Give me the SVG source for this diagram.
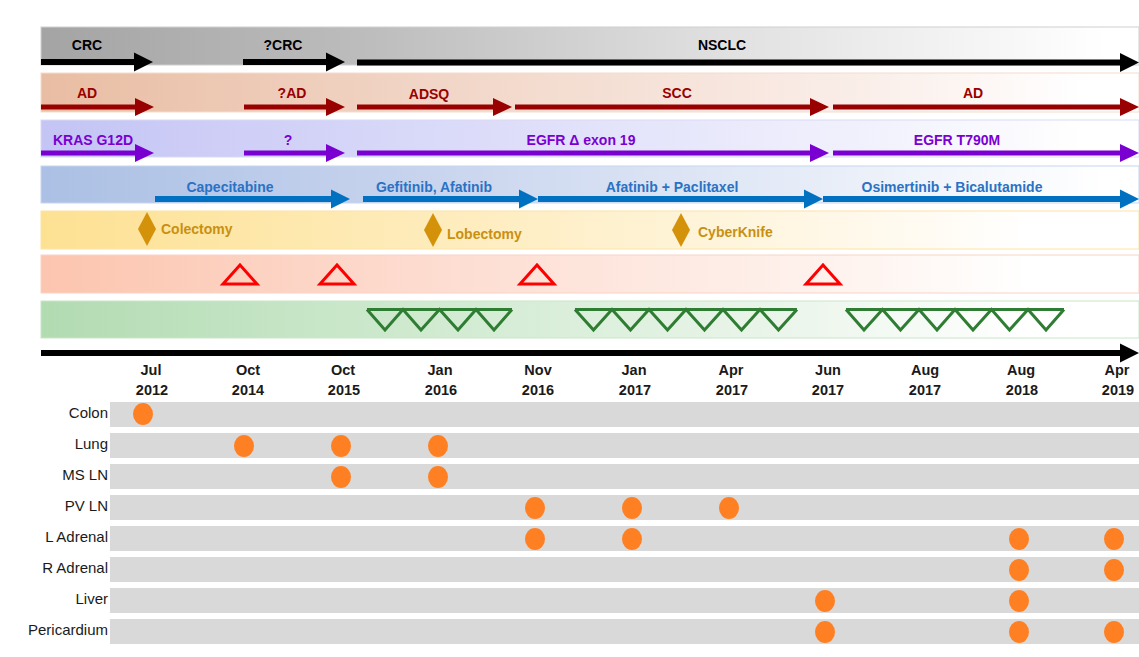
<svg xmlns="http://www.w3.org/2000/svg" width="1139" height="657" viewBox="0 0 1139 657">
<defs>
<linearGradient id="g1" x1="0" x2="1" y1="0" y2="0"><stop offset="0" stop-color="#A4A4A4"/><stop offset="0.3" stop-color="#BDBDBD"/><stop offset="0.62" stop-color="#E0E0E0"/><stop offset="0.97" stop-color="#FFFFFF"/></linearGradient>
<linearGradient id="g2" x1="0" x2="1" y1="0" y2="0"><stop offset="0" stop-color="#E9BDA3"/><stop offset="0.35" stop-color="#F1D5C6"/><stop offset="0.75" stop-color="#FAEEE9"/><stop offset="0.95" stop-color="#FFFFFF"/></linearGradient>
<linearGradient id="g3" x1="0" x2="1" y1="0" y2="0"><stop offset="0" stop-color="#C4C4F5"/><stop offset="0.35" stop-color="#D9D9F9"/><stop offset="0.75" stop-color="#F1F1FD"/><stop offset="0.95" stop-color="#FFFFFF"/></linearGradient>
<linearGradient id="g4" x1="0" x2="1" y1="0" y2="0"><stop offset="0" stop-color="#ABC0E4"/><stop offset="0.35" stop-color="#C8D4EE"/><stop offset="0.75" stop-color="#EBF0F9"/><stop offset="0.97" stop-color="#FFFFFF"/></linearGradient>
<linearGradient id="g5" x1="0" x2="1" y1="0" y2="0"><stop offset="0" stop-color="#FDE193"/><stop offset="0.4" stop-color="#FEEDC0"/><stop offset="0.72" stop-color="#FFF8E8"/><stop offset="0.9" stop-color="#FFFFFF"/></linearGradient>
<linearGradient id="g6" x1="0" x2="1" y1="0" y2="0"><stop offset="0" stop-color="#FCC5AF"/><stop offset="0.35" stop-color="#FDDCD0"/><stop offset="0.7" stop-color="#FEF1EC"/><stop offset="0.9" stop-color="#FFFFFF"/></linearGradient>
<linearGradient id="g7" x1="0" x2="1" y1="0" y2="0"><stop offset="0" stop-color="#B2DBB2"/><stop offset="0.35" stop-color="#D0EAD0"/><stop offset="0.7" stop-color="#EDF6ED"/><stop offset="0.9" stop-color="#FFFFFF"/></linearGradient>
</defs>
<style>
.lbl{font-family:"Liberation Sans",Arial,sans-serif;font-weight:bold;font-size:14px;text-anchor:middle}
.date{font-family:"Liberation Sans",Arial,sans-serif;font-weight:bold;font-size:14.5px;text-anchor:middle;fill:#1a1a1a}
.row{font-family:"Liberation Sans",Arial,sans-serif;font-size:15px;text-anchor:end;fill:#1a1a1a}
.k{fill:#000}
.r{fill:#990000}
.p{fill:#7A00D2}
.b{fill:#0070C0}
.tri{fill:none;stroke:#FF0000;stroke-width:3;stroke-linejoin:miter}
.gtri{fill:none;stroke:#2E7D32;stroke-width:3;stroke-linejoin:miter}
.dia{fill:#D4920A}
.evt{font-family:"Liberation Sans",Arial,sans-serif;font-weight:bold;font-size:14px;fill:#C99010}
.band{stroke-width:1}
.track{fill:#D9D9D9}
.dot{fill:#FF8023}
</style>
<rect width="1139" height="657" fill="#FFFFFF"/>
<g id="bands">
<rect class="band" x="41" y="27" width="1098" height="38" fill="url(#g1)" stroke="#CFCFCF"/>
<rect class="band" x="41" y="73" width="1098" height="39" fill="url(#g2)" stroke="#F6DCCB"/>
<rect class="band" x="41" y="120" width="1098" height="37" fill="url(#g3)" stroke="#D9D9F6"/>
<rect class="band" x="41" y="166" width="1098" height="37" fill="url(#g4)" stroke="#C6D6EF"/>
<rect class="band" x="41" y="211" width="1098" height="38" fill="url(#g5)" stroke="#FCE4A4"/>
<rect class="band" x="41" y="255" width="1098" height="38" fill="url(#g6)" stroke="#FAD3C4"/>
<rect class="band" x="41" y="301" width="1098" height="37" fill="url(#g7)" stroke="#C9E6C9"/>
</g>
<g id="connectors">
<path class="k" d="M41 59 H134 V52.5 L153 62 L134 71.5 V65 H41 Z"/>
<path class="k" d="M243 59 H326 V52.5 L345 62 L326 71.5 V65 H243 Z"/>
<path class="k" d="M357 59.5 H1120 V53 L1139 62.5 L1120 72 V65.5 H357 Z"/>
<path class="r" d="M41 104.5 H135 V98 L154 107 L135 116 V109.5 H41 Z"/>
<path class="r" d="M244 104.5 H326 V98 L345 107 L326 116 V109.5 H244 Z"/>
<path class="r" d="M357 104.5 H493 V98 L512 107 L493 116 V109.5 H357 Z"/>
<path class="r" d="M515 104.5 H810 V98 L829 107 L810 116 V109.5 H515 Z"/>
<path class="r" d="M833 104.5 H1120 V98 L1139 107 L1120 116 V109.5 H833 Z"/>
<path class="p" d="M41 150.5 H135 V144 L154 153 L135 162 V155.5 H41 Z"/>
<path class="p" d="M244 150.5 H326 V144 L345 153 L326 162 V155.5 H244 Z"/>
<path class="p" d="M357 150.5 H810 V144 L829 153 L810 162 V155.5 H357 Z"/>
<path class="p" d="M833 150.5 H1120 V144 L1139 153 L1120 162 V155.5 H833 Z"/>
<path class="b" d="M155 196 H331 V189.5 L350 199 L331 208.5 V202 H155 Z"/>
<path class="b" d="M363 196 H519 V189.5 L538 199 L519 208.5 V202 H363 Z"/>
<path class="b" d="M538 196 H804 V189.5 L823 199 L804 208.5 V202 H538 Z"/>
<path class="b" d="M823 196 H1120 V189.5 L1139 199 L1120 208.5 V202 H823 Z"/>
<path class="k" d="M41 350 H1120 V343.5 L1139 353 L1120 362.5 V356 H41 Z"/>
</g>
<g id="band-labels">
<text class="lbl k" x="87" y="50">CRC</text>
<text class="lbl k" x="283" y="50">?CRC</text>
<text class="lbl k" x="722" y="50">NSCLC</text>
<text class="lbl r" x="87" y="98">AD</text>
<text class="lbl r" x="292" y="98">?AD</text>
<text class="lbl r" x="429" y="99">ADSQ</text>
<text class="lbl r" x="677" y="98">SCC</text>
<text class="lbl r" x="973" y="98">AD</text>
<text class="lbl p" x="93" y="145">KRAS G12D</text>
<text class="lbl p" x="288" y="145">?</text>
<text class="lbl p" x="581" y="145">EGFR Δ exon 19</text>
<text class="lbl p" x="957" y="145">EGFR T790M</text>
<text class="lbl" x="230" y="192" fill="#2A72C4">Capecitabine</text>
<text class="lbl" x="434" y="192" fill="#2A72C4">Gefitinib, Afatinib</text>
<text class="lbl" x="672" y="192" fill="#2A72C4">Afatinib + Paclitaxel</text>
<text class="lbl" x="952" y="192" fill="#2A72C4">Osimertinib + Bicalutamide</text>
</g>
<g id="surgery">
<polygon class="dia" points="147,212 156,229 147,246 138,229"/>
<text class="evt" x="161" y="234">Colectomy</text>
<polygon class="dia" points="433,213 442,230 433,247 424,230"/>
<text class="evt" x="447" y="239">Lobectomy</text>
<polygon class="dia" points="681,213 690,230 681,247 672,230"/>
<text class="evt" x="698" y="237">CyberKnife</text>
</g>
<g id="biopsy">
<polygon class="tri" points="240,265 257,284 223,284"/>
<polygon class="tri" points="337,265 354,284 320,284"/>
<polygon class="tri" points="537,265 554,284 520,284"/>
<polygon class="tri" points="823,265 840,284 806,284"/>
</g>
<g id="scans">
<path class="gtri" d="M367 309.5 H512 M367 309.5 L385 330 L403 309.5 L421 330 L439.5 309.5 L458 330 L476 309.5 L494 330 L512 309.5"/>
<path class="gtri" d="M575 309.5 H797 M575 309.5 L593.5 330 L612 309.5 L630.5 330 L649 309.5 L667.5 330 L686 309.5 L704.5 330 L723 309.5 L741.5 330 L760 309.5 L778.5 330 L797 309.5"/>
<path class="gtri" d="M846 309.5 H1064 M846 309.5 L864 330 L882.5 309.5 L900.5 330 L919 309.5 L937 330 L955 309.5 L973 330 L991.5 309.5 L1009.5 330 L1028 309.5 L1046 330 L1064 309.5"/>
</g>
<g id="dates">
<text class="date" x="151" y="375">Jul</text><text class="date" x="152" y="395">2012</text>
<text class="date" x="248" y="375">Oct</text><text class="date" x="248" y="395">2014</text>
<text class="date" x="343" y="375">Oct</text><text class="date" x="344" y="395">2015</text>
<text class="date" x="440" y="375">Jan</text><text class="date" x="441" y="395">2016</text>
<text class="date" x="538" y="375">Nov</text><text class="date" x="538" y="395">2016</text>
<text class="date" x="634" y="375">Jan</text><text class="date" x="635" y="395">2017</text>
<text class="date" x="731" y="375">Apr</text><text class="date" x="732" y="395">2017</text>
<text class="date" x="828" y="375">Jun</text><text class="date" x="828" y="395">2017</text>
<text class="date" x="925" y="375">Aug</text><text class="date" x="925" y="395">2017</text>
<text class="date" x="1021" y="375">Aug</text><text class="date" x="1022" y="395">2018</text>
<text class="date" x="1117" y="375">Apr</text><text class="date" x="1118" y="395">2019</text>
</g>
<g id="row-colon"><rect class="track" x="110" y="402" width="1029" height="25"/><text class="row" x="108" y="418">Colon</text>
<ellipse class="dot" cx="143" cy="414" rx="10" ry="11"/></g>
<g id="row-lung"><rect class="track" x="110" y="433" width="1029" height="25"/><text class="row" x="108" y="449">Lung</text>
<ellipse class="dot" cx="244" cy="446" rx="10" ry="11"/><ellipse class="dot" cx="341" cy="446" rx="10" ry="11"/><ellipse class="dot" cx="438" cy="446" rx="10" ry="11"/></g>
<g id="row-msln"><rect class="track" x="110" y="464" width="1029" height="25"/><text class="row" x="108" y="480">MS LN</text>
<ellipse class="dot" cx="341" cy="477" rx="10" ry="11"/><ellipse class="dot" cx="438" cy="477" rx="10" ry="11"/></g>
<g id="row-pvln"><rect class="track" x="110" y="495" width="1029" height="25"/><text class="row" x="108" y="511">PV LN</text>
<ellipse class="dot" cx="535" cy="508" rx="10" ry="11"/><ellipse class="dot" cx="632" cy="508" rx="10" ry="11"/><ellipse class="dot" cx="729" cy="508" rx="10" ry="11"/></g>
<g id="row-ladrenal"><rect class="track" x="110" y="526" width="1029" height="25"/><text class="row" x="108" y="542">L Adrenal</text>
<ellipse class="dot" cx="535" cy="539" rx="10" ry="11"/><ellipse class="dot" cx="632" cy="539" rx="10" ry="11"/><ellipse class="dot" cx="1019" cy="539" rx="10" ry="11"/><ellipse class="dot" cx="1114" cy="539" rx="10" ry="11"/></g>
<g id="row-radrenal"><rect class="track" x="110" y="557" width="1029" height="25"/><text class="row" x="108" y="573">R Adrenal</text>
<ellipse class="dot" cx="1019" cy="570" rx="10" ry="11"/><ellipse class="dot" cx="1114" cy="570" rx="10" ry="11"/></g>
<g id="row-liver"><rect class="track" x="110" y="588" width="1029" height="25"/><text class="row" x="108" y="604">Liver</text>
<ellipse class="dot" cx="825" cy="601" rx="10" ry="11"/><ellipse class="dot" cx="1019" cy="601" rx="10" ry="11"/></g>
<g id="row-pericardium"><rect class="track" x="110" y="619" width="1029" height="25"/><text class="row" x="108" y="635">Pericardium</text>
<ellipse class="dot" cx="825" cy="632" rx="10" ry="11"/><ellipse class="dot" cx="1019" cy="632" rx="10" ry="11"/><ellipse class="dot" cx="1114" cy="632" rx="10" ry="11"/></g>
</svg>
